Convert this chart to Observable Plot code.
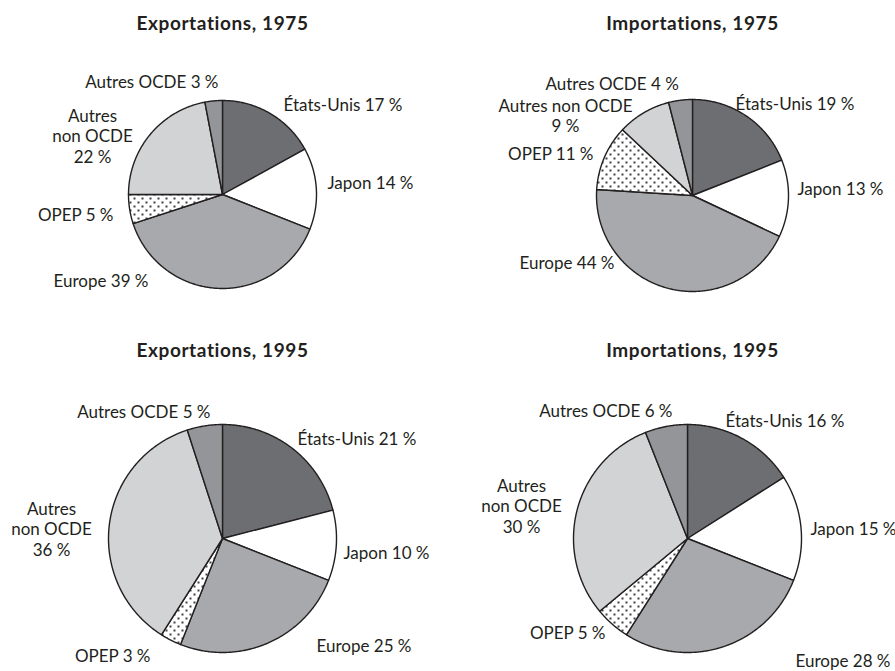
<!DOCTYPE html>
<html><head><meta charset="utf-8">
<script src="https://cdn.jsdelivr.net/npm/d3@7"></script>
<script src="https://cdn.jsdelivr.net/npm/@observablehq/plot@0.6"></script>
<style>
body{margin:0;background:#fff}
#chart{width:895px;height:671px}
</style>
</head><body><div id="chart"></div>
<script>
// ---- data ----
const titles = ["Exportations, 1975", "Importations, 1975", "Exportations, 1995", "Importations, 1995"];
const categories = ["États-Unis", "Japon", "Europe", "OPEP", "Autres non OCDE", "Autres OCDE"];
const exports1975 = [17, 14, 39, 5, 22, 3];
const imports1975 = [19, 13, 44, 11, 9, 4];
const exports1995 = [21, 10, 25, 3, 36, 5];
const imports1995 = [16, 15, 28, 5, 30, 6];
const series = [exports1975, imports1975, exports1995, imports1995];
// how each category name is broken into lines, per chart
const labelNames = [
  ["États-Unis", "Japon", "Europe", "OPEP", "Autres\nnon OCDE\n", "Autres OCDE"],
  ["États-Unis", "Japon", "Europe", "OPEP", "Autres non OCDE\n", "Autres OCDE"],
  ["États-Unis", "Japon", "Europe", "OPEP", "Autres\nnon OCDE\n", "Autres OCDE"],
  ["États-Unis", "Japon", "Europe", "OPEP", "Autres\nnon OCDE\n", "Autres OCDE"]
];

// ---- layout (positions / styles) ----
const pieLayout = [
  {cx: 222, cy: 194, r: 94},
  {cx: 692, cy: 195, r: 96},
  {cx: 222, cy: 538, r: 114},
  {cx: 687, cy: 538, r: 114}
];
const titlePos = [[222, 23], [692, 23], [222, 350], [692, 350]];
const labelPos = [
  [[283, 104, "start"], [327, 182, "start"], [148, 280, "end"], [113, 214, "end"], [92, 135, "middle"], [218, 81, "end"]],
  [[735, 103, "start"], [797, 188, "start"], [614, 262, "end"], [593, 153, "end"], [565, 115, "middle"], [545, 83, "start"]],
  [[297, 438, "start"], [343, 552, "start"], [316, 645, "start"], [150, 655, "end"], [51, 528, "middle"], [210, 411, "end"]],
  [[725, 420, "start"], [810, 528, "start"], [795, 660, "start"], [605, 632, "end"], [521, 505, "middle"], [672, 410, "end"]]
];
const fills = ["#6d6e71", "#ffffff", "#a7a9ac", "url(#dots)", "#d1d3d4", "#939598"];
const strokeColor = "#231f20";
const fontSize = 17;

// ---- build slice polygons from the values ----
const sliceMarks = [];
series.forEach((vals, pi) => {
  const {cx, cy, r} = pieLayout[pi];
  const total = d3.sum(vals);
  let cum = 0;
  vals.forEach((v, si) => {
    const a0 = cum / total * 2 * Math.PI;
    cum += v;
    const a1 = cum / total * 2 * Math.PI;
    const n = Math.max(2, Math.ceil((a1 - a0) / 0.01));
    const pts = [{x: cx, y: cy}];
    for (let k = 0; k <= n; k++) {
      const t = a0 + (a1 - a0) * k / n;
      pts.push({x: cx + r * Math.sin(t), y: cy - r * Math.cos(t)});
    }
    pts.push({x: cx, y: cy});
    sliceMarks.push(Plot.line(pts, {x: "x", y: "y", fill: fills[si], stroke: strokeColor, strokeWidth: 1.4, strokeLinejoin: "round", curve: "linear"}));
  });
});

// ---- labels ----
const labels = [];
series.forEach((vals, pi) => {
  vals.forEach((v, si) => {
    const [x, y, anchor] = labelPos[pi][si];
    const name = labelNames[pi][si];
    const text = name.endsWith("\n") ? `${name}${v} %` : `${name} ${v} %`;
    labels.push({x, y, anchor, text});
  });
});
const titleRows = titles.map((t, i) => ({x: titlePos[i][0], y: titlePos[i][1], text: t}));

const textMarks = ["start", "middle", "end"].map(a =>
  Plot.text(labels.filter(d => d.anchor === a), {x: "x", y: "y", text: "text", textAnchor: a, fontSize, lineHeight: 1.21, fill: "#231f20"})
);

const svg = Plot.plot({
  width: 895, height: 671, margin: 0,
  style: {fontFamily: "Lato, sans-serif", background: "#fff"},
  x: {domain: [0, 895], range: [0, 895], axis: null},
  y: {domain: [0, 671], range: [0, 671], axis: null},
  marks: [
    ...sliceMarks,
    ...textMarks,
    Plot.text(titleRows, {x: "x", y: "y", text: "text", fontSize: 19, fontWeight: "bold", fill: "#231f20"})
  ]
});

// dotted pattern for OPEP slices
const defs = d3.select(svg).insert("defs", ":first-child");
const pat = defs.append("pattern").attr("id", "dots").attr("patternUnits", "userSpaceOnUse").attr("width", 8).attr("height", 8);
pat.append("rect").attr("width", 8).attr("height", 8).attr("fill", "#fff");
pat.append("rect").attr("x", 1).attr("y", 1).attr("width", 2).attr("height", 2).attr("fill", "#414042");
pat.append("rect").attr("x", 5).attr("y", 5).attr("width", 2).attr("height", 2).attr("fill", "#414042");

d3.select(svg).selectAll("text").filter(function() { return titles.includes(this.textContent); }).attr("letter-spacing", "0.6px");

document.getElementById("chart").appendChild(svg);
</script>
</body></html>
